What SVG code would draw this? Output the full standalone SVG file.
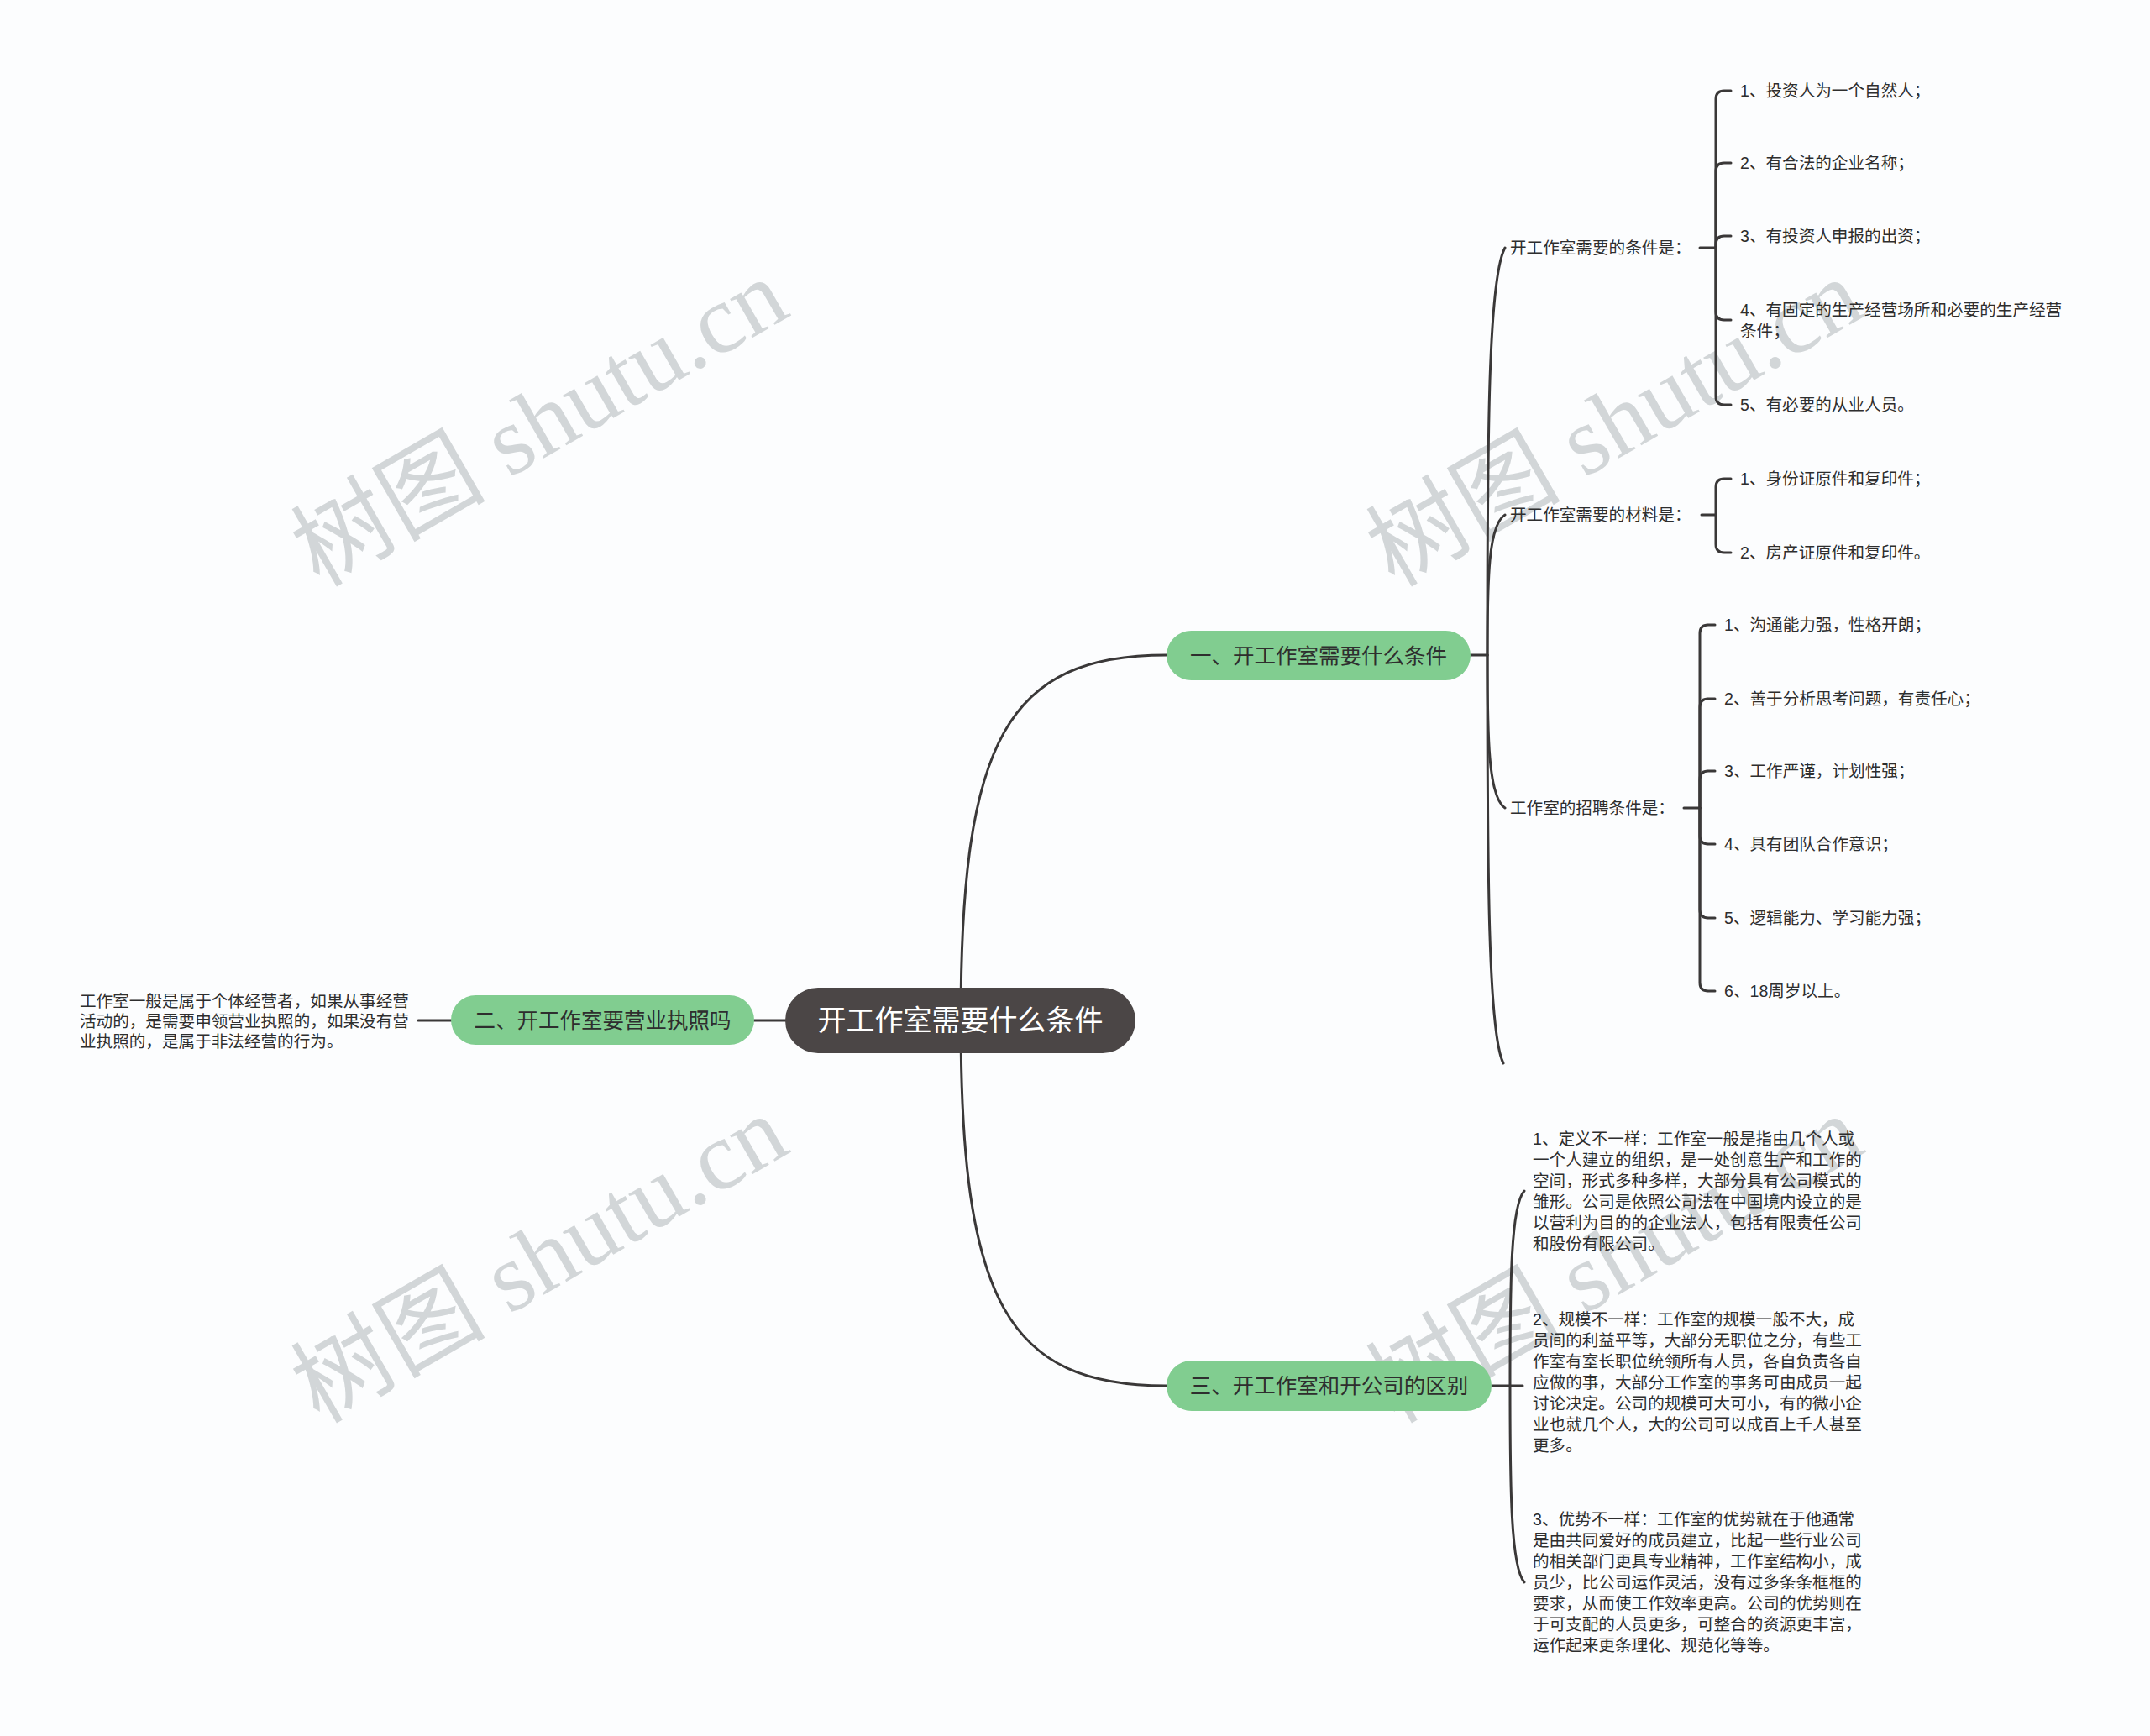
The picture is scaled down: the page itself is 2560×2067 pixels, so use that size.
<svg xmlns="http://www.w3.org/2000/svg" width="2560" height="2067" viewBox="0 0 2560 2067">
<style>
.bg{fill:#FCFDFE}
.wm{font-family:"Liberation Serif","Noto Sans CJK SC",serif;font-size:116px;fill:#D2D6D8}
.ln{fill:none;stroke:#3A3838;stroke-width:3;stroke-linecap:round}
.t{font-family:"Liberation Sans","Noto Sans CJK SC",sans-serif;font-size:19.6px;fill:#2E2E2E;dominant-baseline:central}
.bt{font-family:"Liberation Sans","Noto Sans CJK SC",sans-serif;font-size:25.5px;fill:#2E2E2E;dominant-baseline:central;text-anchor:middle}
.rt{font-family:"Liberation Sans","Noto Sans CJK SC",sans-serif;font-size:34px;fill:#FFFFFF;dominant-baseline:central;text-anchor:middle}
.g{fill:#81CD90}
.r{fill:#4B4646}
</style>
<rect class="bg" x="0" y="0" width="2560" height="2067"/>
<g id="watermarks">
<text class="wm" transform="translate(380,700) rotate(-30)">树图 shutu.cn</text>
<text class="wm" transform="translate(1660,700) rotate(-30)">树图 shutu.cn</text>
<text class="wm" transform="translate(380,1696) rotate(-30)">树图 shutu.cn</text>
<text class="wm" transform="translate(1660,1696) rotate(-30)">树图 shutu.cn</text>
</g>
<g id="connectors">
<path class="ln" d="M1144,1215 C1144,880 1200,780 1389,780"/>
<path class="ln" d="M1144,1215 C1144,1550 1200,1650 1389,1650"/>
<path class="ln" d="M898,1215 H935"/>
<path class="ln" d="M498,1215 H537"/>
<path class="ln" d="M1751,780 H1771"/>
<path class="ln" d="M1771,780 C1771,520 1772,331 1792,295"/>
<path class="ln" d="M1771,780 C1771,691 1772,625 1792,613"/>
<path class="ln" d="M1771,780 C1771,877 1772,949 1792,962"/>
<path class="ln" d="M1771,780 C1771,1040 1772,1230 1790,1266"/>
<path class="ln" d="M2024,295 H2043"/>
<path class="ln" d="M2043,295 V118 Q2043,108 2053,108 H2061"/>
<path class="ln" d="M2043,295 V204 Q2043,194 2053,194 H2061"/>
<path class="ln" d="M2043,295 V291 Q2043,281 2053,281 H2061"/>
<path class="ln" d="M2043,295 V371 Q2043,381 2053,381 H2061"/>
<path class="ln" d="M2043,295 V472 Q2043,482 2053,482 H2061"/>
<path class="ln" d="M2026,613 H2043"/>
<path class="ln" d="M2043,613 V580 Q2043,570 2053,570 H2061"/>
<path class="ln" d="M2043,613 V648 Q2043,658 2053,658 H2061"/>
<path class="ln" d="M2005,962 H2024"/>
<path class="ln" d="M2024,962 V754 Q2024,744 2034,744 H2042"/>
<path class="ln" d="M2024,962 V842 Q2024,832 2034,832 H2042"/>
<path class="ln" d="M2024,962 V928 Q2024,918 2034,918 H2042"/>
<path class="ln" d="M2024,962 V995 Q2024,1005 2034,1005 H2042"/>
<path class="ln" d="M2024,962 V1083 Q2024,1093 2034,1093 H2042"/>
<path class="ln" d="M2024,962 V1170 Q2024,1180 2034,1180 H2042"/>
<path class="ln" d="M1776,1650 H1813"/>
<path class="ln" d="M1798,1650 C1798,1526 1799,1435 1815,1418"/>
<path class="ln" d="M1798,1650 C1798,1774 1799,1866 1815,1884"/>
</g>
<g id="root">
<rect class="r" x="935" y="1176" width="417" height="78" rx="39"/>
<text class="rt" x="1143.5" y="1215">开工作室需要什么条件</text>
</g>
<g id="branch1">
<rect class="g" x="1389" y="751" width="362" height="59" rx="29.5"/>
<text class="bt" x="1570" y="780.5">一、开工作室需要什么条件</text>
</g>
<g id="branch2">
<rect class="g" x="537" y="1185" width="361" height="59" rx="29.5"/>
<text class="bt" x="717.5" y="1214.5">二、开工作室要营业执照吗</text>
</g>
<g id="branch3">
<rect class="g" x="1389" y="1620" width="387" height="60" rx="30"/>
<text class="bt" x="1582.5" y="1650">三、开工作室和开公司的区别</text>
</g>
<g id="b2-leaf">
<text class="t" x="95" y="1192">工作室一般是属于个体经营者，如果从事经营</text>
<text class="t" x="95" y="1216">活动的，是需要申领营业执照的，如果没有营</text>
<text class="t" x="95" y="1240">业执照的，是属于非法经营的行为。</text>
</g>
<g id="sub-conditions"><text class="t" x="1798" y="295">开工作室需要的条件是：</text></g>
<g id="cond-1"><text class="t" x="2072" y="108">1、投资人为一个自然人；</text></g>
<g id="cond-2"><text class="t" x="2072" y="194">2、有合法的企业名称；</text></g>
<g id="cond-3"><text class="t" x="2072" y="281">3、有投资人申报的出资；</text></g>
<g id="cond-4"><text class="t" x="2072" y="369">4、有固定的生产经营场所和必要的生产经营</text><text class="t" x="2072" y="394">条件；</text></g>
<g id="cond-5"><text class="t" x="2072" y="482">5、有必要的从业人员。</text></g>
<g id="sub-materials"><text class="t" x="1798" y="613">开工作室需要的材料是：</text></g>
<g id="mat-1"><text class="t" x="2072" y="570">1、身份证原件和复印件；</text></g>
<g id="mat-2"><text class="t" x="2072" y="658">2、房产证原件和复印件。</text></g>
<g id="sub-recruit"><text class="t" x="1798" y="962">工作室的招聘条件是：</text></g>
<g id="rec-1"><text class="t" x="2053" y="744">1、沟通能力强，性格开朗；</text></g>
<g id="rec-2"><text class="t" x="2053" y="832">2、善于分析思考问题，有责任心；</text></g>
<g id="rec-3"><text class="t" x="2053" y="918">3、工作严谨，计划性强；</text></g>
<g id="rec-4"><text class="t" x="2053" y="1005">4、具有团队合作意识；</text></g>
<g id="rec-5"><text class="t" x="2053" y="1093">5、逻辑能力、学习能力强；</text></g>
<g id="rec-6"><text class="t" x="2053" y="1180">6、18周岁以上。</text></g>
<g id="diff-1">
<text class="t" x="1825" y="1356">1、定义不一样：工作室一般是指由几个人或</text>
<text class="t" x="1825" y="1381">一个人建立的组织，是一处创意生产和工作的</text>
<text class="t" x="1825" y="1406">空间，形式多种多样，大部分具有公司模式的</text>
<text class="t" x="1825" y="1431">雏形。公司是依照公司法在中国境内设立的是</text>
<text class="t" x="1825" y="1456">以营利为目的的企业法人，包括有限责任公司</text>
<text class="t" x="1825" y="1481">和股份有限公司。</text>
</g>
<g id="diff-2">
<text class="t" x="1825" y="1571">2、规模不一样：工作室的规模一般不大，成</text>
<text class="t" x="1825" y="1596">员间的利益平等，大部分无职位之分，有些工</text>
<text class="t" x="1825" y="1621">作室有室长职位统领所有人员，各自负责各自</text>
<text class="t" x="1825" y="1646">应做的事，大部分工作室的事务可由成员一起</text>
<text class="t" x="1825" y="1671">讨论决定。公司的规模可大可小，有的微小企</text>
<text class="t" x="1825" y="1696">业也就几个人，大的公司可以成百上千人甚至</text>
<text class="t" x="1825" y="1721">更多。</text>
</g>
<g id="diff-3">
<text class="t" x="1825" y="1809">3、优势不一样：工作室的优势就在于他通常</text>
<text class="t" x="1825" y="1834">是由共同爱好的成员建立，比起一些行业公司</text>
<text class="t" x="1825" y="1859">的相关部门更具专业精神，工作室结构小，成</text>
<text class="t" x="1825" y="1884">员少，比公司运作灵活，没有过多条条框框的</text>
<text class="t" x="1825" y="1909">要求，从而使工作效率更高。公司的优势则在</text>
<text class="t" x="1825" y="1934">于可支配的人员更多，可整合的资源更丰富，</text>
<text class="t" x="1825" y="1959">运作起来更条理化、规范化等等。</text>
</g>
</svg>
